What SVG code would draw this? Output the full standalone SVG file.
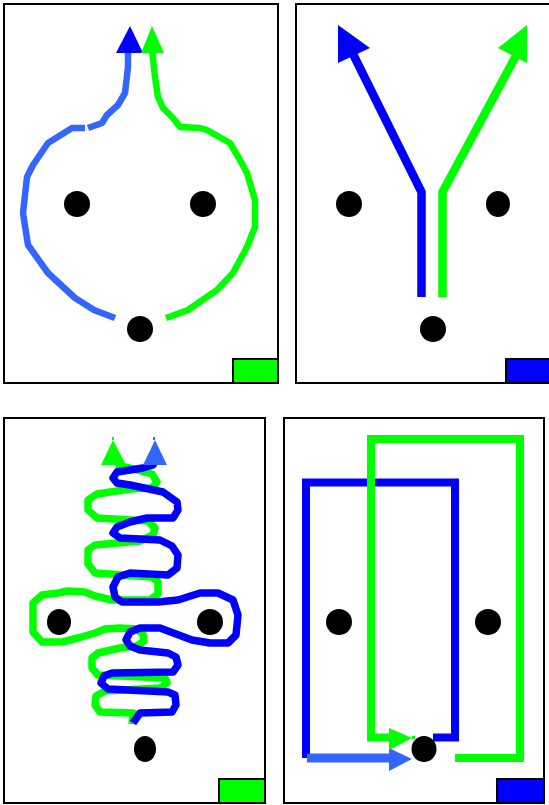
<svg xmlns="http://www.w3.org/2000/svg" width="549" height="805" viewBox="0 0 549 805">
<style>
.frame{fill:#fff;stroke:#000;stroke-width:2}
.dot{fill:#000}
.g{fill:none;stroke:#00ff00}
.b{fill:none;stroke:#0000ff}
.lb{fill:none;stroke:#3366ff}
.wavy{stroke-width:7.5;stroke-linejoin:round;stroke-linecap:butt}
.sq{stroke-width:8;stroke-linejoin:miter;stroke-linecap:butt}
</style>
<rect width="549" height="805" fill="#fff"/>
<g id="panel1">
  <rect class="frame" x="4" y="4" width="274" height="379"/>
  <rect x="233" y="359" width="45" height="24" fill="#00ff00" stroke="#000" stroke-width="2"/>
</g>
<g id="panel2">
  <rect class="frame" x="296" y="4" width="260" height="379"/>
  <rect x="506" y="359" width="50" height="24" fill="#0000ff" stroke="#000" stroke-width="2"/>
</g>
<g id="panel3">
  <rect class="frame" x="4" y="418" width="261" height="385"/>
  <rect x="219" y="779" width="46" height="24" fill="#00ff00" stroke="#000" stroke-width="2"/>
</g>
<g id="panel4">
  <rect class="frame" x="284" y="418" width="260" height="385"/>
  <rect x="497" y="779" width="47" height="24" fill="#0000ff" stroke="#000" stroke-width="2"/>
</g>
<g id="p1-left"><circle class="dot" cx="77" cy="204" r="13"/></g>
<g id="p1-right"><circle class="dot" cx="203" cy="204" r="13"/></g>
<g id="p1-bottom"><circle class="dot" cx="140" cy="329" r="13"/></g>
<g id="p2-left"><circle class="dot" cx="349" cy="204" r="13"/></g>
<g id="p2-right"><ellipse class="dot" cx="498" cy="204" rx="12" ry="13"/></g>
<g id="p2-bottom"><circle class="dot" cx="433" cy="329" r="13"/></g>
<g id="p3-left"><ellipse class="dot" cx="59" cy="622" rx="12" ry="13"/></g>
<g id="p3-right"><circle class="dot" cx="210" cy="622" r="13"/></g>
<g id="p3-bottom"><ellipse class="dot" cx="145" cy="749" rx="11" ry="13"/></g>
<g id="p4-left"><circle class="dot" cx="339" cy="622" r="13"/></g>
<g id="p4-right"><circle class="dot" cx="488" cy="622" r="13"/></g>
<g id="p4-bottom"><ellipse class="dot" cx="424" cy="749" rx="12.5" ry="13"/></g>
<g id="connectors">
  <!-- panel 1 -->
  <path class="lb" stroke-width="6.5" stroke-linejoin="round" d="M115,318 L94,310 L75,298 L48,273 L28,245 L23,213 L27,177 L33,165 L48,143 L72,128 L85,128 M88,128 L102,123 L107,115 L118,105 L125,93 L128,67 L128,47"/>
  <polygon points="130,26 116,53 143,53" fill="#0000ff"/>
  <path class="g" stroke-width="6.5" stroke-linejoin="round" d="M166,318 L188,310 L217,290 L233,273 L247,247 L255,227 L255,200 L252,190 L247,173 L240,160 L230,143 L207,130 L200,128 L180,127 L173,118 L163,108 L158,97 L155,77 L152,50"/>
  <polygon points="152,26 141,53 164,53" fill="#00ff00"/>
  <!-- panel 2 -->
  <path class="b" stroke-width="8.5" d="M421.5,297 V192 L352,52"/>
  <polygon points="338,25 338,63 370,48" fill="#0000ff"/>
  <path class="g" stroke-width="8.5" d="M442.5,297 V192 L518,52"/>
  <polygon points="527,25 527,63 498,48" fill="#00ff00"/>
  <!-- panel 3 -->
  <path class="g wavy" d="M132,724 L133,713 L100,712 L95,705 L96,696 L105,691 L160,688 L167,683 L165,678 L98,675 L92,668 L92,658 L98,653 L120,648 L137,646 L144,641 L143,634 L136,629 L120,628 L105,629 L95,633 L78,638 L62,642 L42,642 L33,632 L33,603 L42,595 L58,593 L68,591 L85,592 L95,596 L112,600 L150,600 L158,594 L158,582 L152,577 L95,573 L88,564 L88,550 L95,545 L140,541 L153,535 L155,528 L148,521 L97,518 L88,510 L88,500 L97,494 L130,489 L152,488 L157,482 L152,474 L130,468 L116,465"/>
  <polygon points="113,440 101,465 126,465" fill="#00ff00"/>
  <rect x="112" y="437" width="2" height="3" fill="#00ff00"/>
  <path class="b wavy" d="M133,723 L140,713 L172,712 L176,705 L175,695 L168,692 L108,689 L101,683 L104,676 L112,673 L173,672 L178,665 L176,657 L168,653 L140,650 L130,646 L126,640 L130,632 L140,628 L160,628 L192,640 L210,643 L228,643 L236,635 L238,615 L233,600 L218,593 L200,593 L178,600 L158,602 L122,602 L115,597 L113,587 L118,577 L130,573 L168,575 L177,568 L178,555 L172,546 L160,540 L120,538 L113,533 L117,527 L130,522 L147,518 L173,518 L178,510 L177,502 L163,492 L130,485 L117,483 L113,478 L117,472 L143,468 L153,465 L157,458"/>
  <polygon points="155,440 143,465 167,465" fill="#3366ff"/>
  <rect x="153" y="437" width="2" height="3" fill="#3366ff"/>
  <!-- panel 4 -->
  <path class="b sq" d="M433,737.5 H455 V482.5 H306 V758"/>
  <path class="lb" stroke-width="9" d="M307,758 H392"/>
  <polygon points="389,748 389,771 412,759" fill="#3366ff"/>
  <path class="g sq" d="M455,758 H520 V439 H371 V737.5 H392"/>
  <polygon points="389,728 389,750 412,738" fill="#00ff00"/>
  <rect x="412" y="736" width="3" height="3" fill="#00ff00"/>
</g>
</svg>
